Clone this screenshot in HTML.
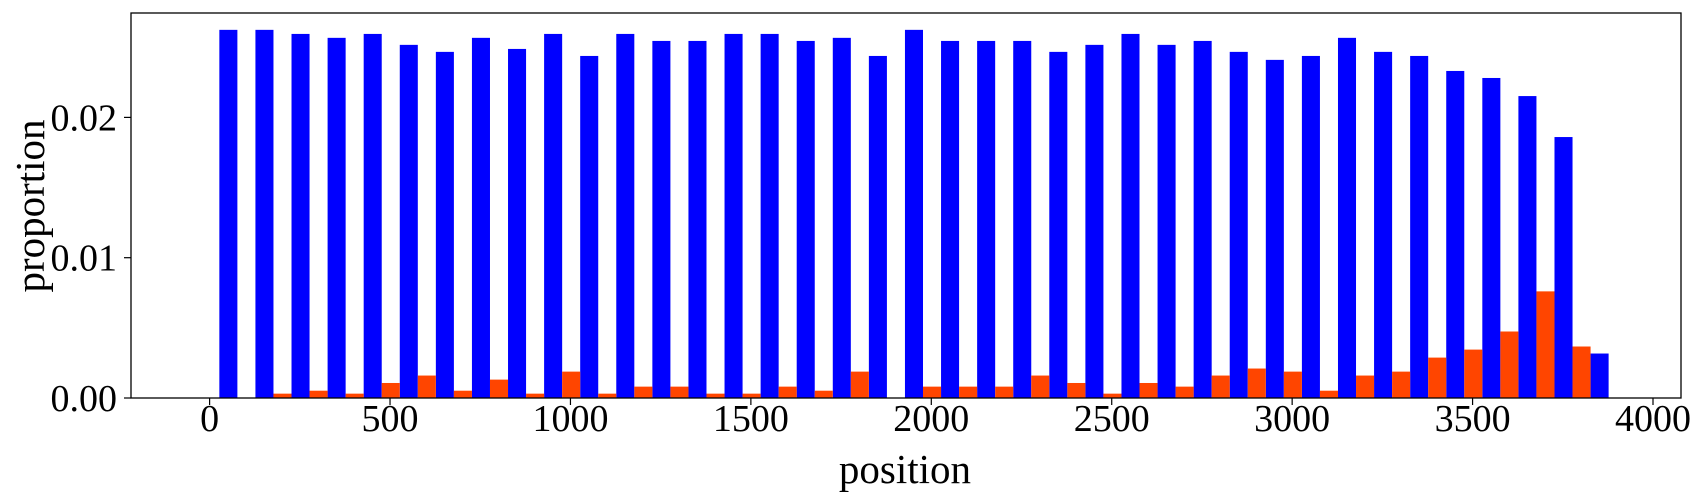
<!DOCTYPE html>
<html><head><meta charset="utf-8">
<style>
html,body{margin:0;padding:0;background:#fff;}
svg{display:block;font-family:"Liberation Serif","DejaVu Serif",serif;}
</style></head>
<body>
<svg id="chart" width="1703" height="497" viewBox="0 0 1703 497" xmlns="http://www.w3.org/2000/svg">
<g id="bars"></g>
<g id="axes"></g>
<rect x="131" y="13" width="1550" height="385" fill="none" stroke="#000" stroke-width="1.3"/>
<text x="905" y="483" font-size="41" text-anchor="middle">position</text>
<text transform="translate(44,206) rotate(-90)" font-size="41" text-anchor="middle">proportion</text>
</svg>
<script>
const binStart = 27;
const binWidth = 100;
const blueValues = [0.02624,0.02624,0.02595,0.02567,0.02595,0.02517,0.02467,0.02567,0.02488,0.02595,0.02438,0.02595,0.02545,0.02545,0.02595,0.02595,0.02545,0.02567,0.02438,0.02624,0.02545,0.02545,0.02545,0.02467,0.02517,0.02595,0.02517,0.02545,0.02467,0.0241,0.02438,0.02567,0.02467,0.02438,0.02331,0.02281,0.02152,0.0186,0.00317];
const orangeValues = [0,0.00031,0.00052,0.00031,0.00107,0.0016,0.00052,0.00131,0.00031,0.00188,0.00031,0.00081,0.00081,0.00031,0.00031,0.00081,0.00052,0.00188,0,0.00081,0.00081,0.00081,0.0016,0.00107,0.00031,0.00107,0.00081,0.0016,0.0021,0.00188,0.00052,0.0016,0.00188,0.00288,0.00345,0.00474,0.0076,0.00367,0];
const xTicks = [0,500,1000,1500,2000,2500,3000,3500,4000];
const xTickLabels = ["0","500","1000","1500","2000","2500","3000","3500","4000"];
const yTicks = [0,0.01,0.02];
const yTickLabels = ["0.00","0.01","0.02"];

const NS = "http://www.w3.org/2000/svg";
function xs(v){ return 209.6 + v*0.36085; }
function ys(v){ return 398 - v*14030; }
const bars = document.getElementById('bars');
const axes = document.getElementById('axes');
function mk(tag, attrs, parent){
  const e = document.createElementNS(NS, tag);
  for (const k in attrs) e.setAttribute(k, attrs[k]);
  parent.appendChild(e);
  return e;
}
blueValues.forEach((v,i)=>{
  const x0 = binStart + i*binWidth;
  const r = mk('rect',{x:xs(x0),y:ys(v),width:xs(x0+binWidth/2)-xs(x0),height:ys(0)-ys(v),fill:'#0000ff'},bars);
  
  
});
orangeValues.forEach((v,i)=>{
  if (v<=0) return;
  const x0 = binStart + i*binWidth + binWidth/2;
  const r = mk('rect',{x:xs(x0),y:ys(v),width:xs(x0+binWidth/2)-xs(x0),height:ys(0)-ys(v),fill:'#ff4500'},bars);
  
  
});
xTicks.forEach((t,i)=>{
  const x = xs(t);
  const l = mk('line',{x1:x,x2:x,y1:398,y2:405,stroke:'#000','stroke-width':1.2},axes);
  
  
  const tx = mk('text',{x:x,y:431,'font-size':38,'text-anchor':'middle'},axes);
  tx.textContent = xTickLabels[i];
  
  
});
yTicks.forEach((t,i)=>{
  const y = ys(t);
  const l = mk('line',{x1:124,x2:131,y1:y,y2:y,stroke:'#000','stroke-width':1.2},axes);
  
  
  const tx = mk('text',{x:117,y:y+13,'font-size':38,'text-anchor':'end'},axes);
  tx.textContent = yTickLabels[i];
  
  
});
</script>
</body></html>
